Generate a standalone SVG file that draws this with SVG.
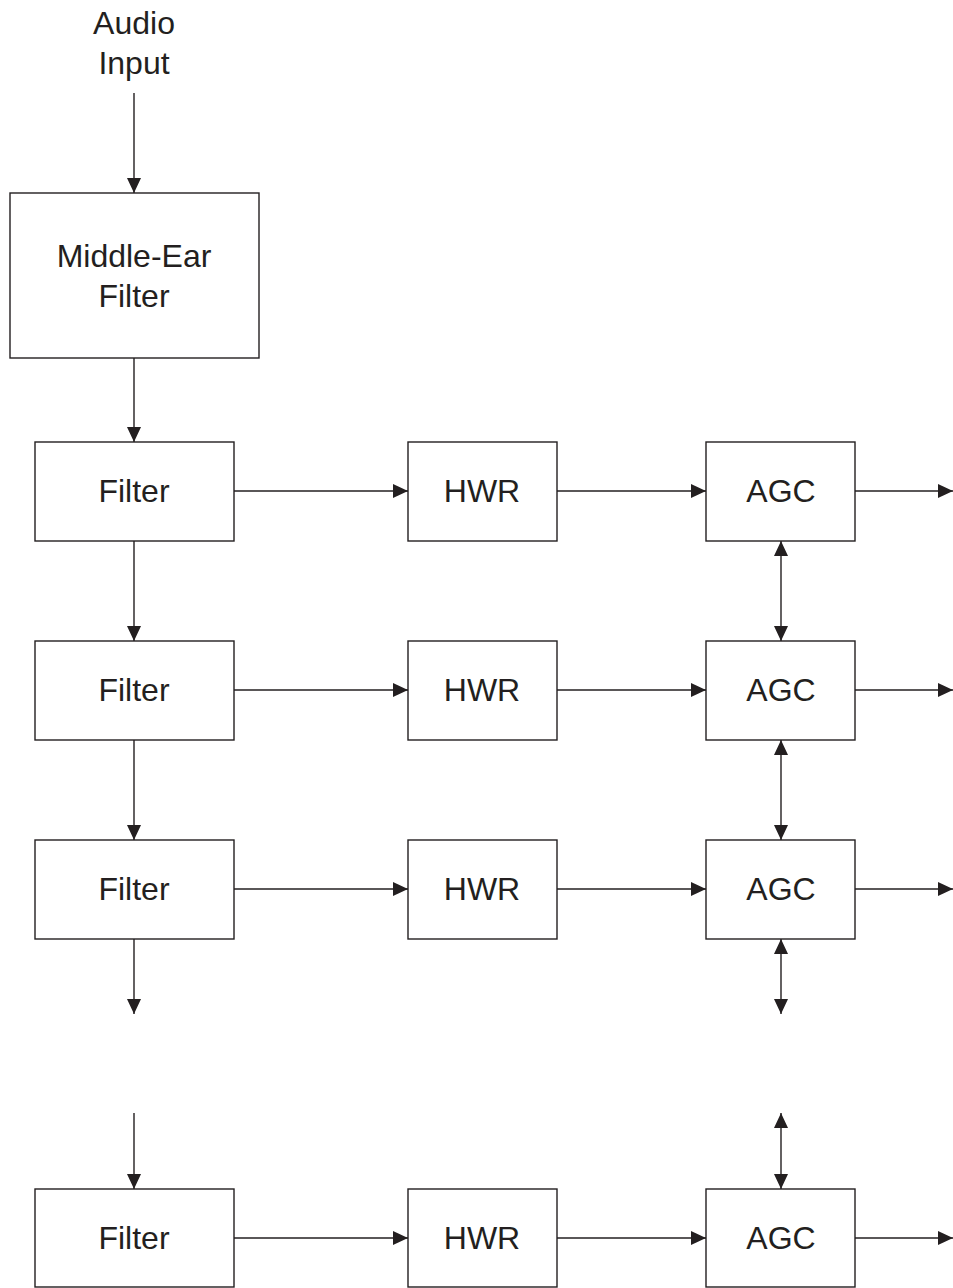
<svg xmlns="http://www.w3.org/2000/svg" width="953" height="1288" viewBox="0 0 953 1288">
  <style>
    .box { fill: #ffffff; stroke: #231f20; stroke-width: 1.4; }
    .lbl { font-family: "Liberation Sans", Arial, sans-serif; font-size: 32px; fill: #231f20; text-anchor: middle; }
    .wire { fill: none; stroke: #231f20; stroke-width: 1.4; }
  </style>
  <defs>
    <marker id="arrow" markerUnits="userSpaceOnUse" markerWidth="16" markerHeight="16" viewBox="0 0 16 16" refX="15" refY="8" orient="auto-start-reverse">
      <path d="M0,1 L15,8 L0,15 Z" fill="#231f20"/>
    </marker>
  </defs>
  <rect width="953" height="1288" fill="#ffffff"/>

  <text class="lbl" x="134" y="34">Audio</text>
  <text class="lbl" x="134" y="74">Input</text>

  <g id="middle-ear">
    <rect class="box" x="10" y="193" width="249" height="165"/>
    <text class="lbl" x="134" y="267">Middle-Ear</text>
    <text class="lbl" x="134" y="307">Filter</text>
  </g>

  <g id="filter1"><rect class="box" x="35" y="442" width="199" height="99"/><text class="lbl" x="134" y="502">Filter</text></g>
  <g id="hwr1"><rect class="box" x="408" y="442" width="149" height="99"/><text class="lbl" x="482" y="502">HWR</text></g>
  <g id="agc1"><rect class="box" x="706" y="442" width="149" height="99"/><text class="lbl" x="781" y="502">AGC</text></g>

  <g id="filter2"><rect class="box" x="35" y="641" width="199" height="99"/><text class="lbl" x="134" y="701">Filter</text></g>
  <g id="hwr2"><rect class="box" x="408" y="641" width="149" height="99"/><text class="lbl" x="482" y="701">HWR</text></g>
  <g id="agc2"><rect class="box" x="706" y="641" width="149" height="99"/><text class="lbl" x="781" y="701">AGC</text></g>

  <g id="filter3"><rect class="box" x="35" y="840" width="199" height="99"/><text class="lbl" x="134" y="900">Filter</text></g>
  <g id="hwr3"><rect class="box" x="408" y="840" width="149" height="99"/><text class="lbl" x="482" y="900">HWR</text></g>
  <g id="agc3"><rect class="box" x="706" y="840" width="149" height="99"/><text class="lbl" x="781" y="900">AGC</text></g>

  <g id="filterN"><rect class="box" x="35" y="1189" width="199" height="98"/><text class="lbl" x="134" y="1249">Filter</text></g>
  <g id="hwrN"><rect class="box" x="408" y="1189" width="149" height="98"/><text class="lbl" x="482" y="1249">HWR</text></g>
  <g id="agcN"><rect class="box" x="706" y="1189" width="149" height="98"/><text class="lbl" x="781" y="1249">AGC</text></g>

  <g id="connectors">
    <!-- filter chain -->
    <line class="wire" x1="134" y1="93" x2="134" y2="193" marker-end="url(#arrow)"/>
    <line class="wire" x1="134" y1="358" x2="134" y2="442" marker-end="url(#arrow)"/>
    <line class="wire" x1="134" y1="541" x2="134" y2="641" marker-end="url(#arrow)"/>
    <line class="wire" x1="134" y1="740" x2="134" y2="840" marker-end="url(#arrow)"/>
    <line class="wire" x1="134" y1="939" x2="134" y2="1014" marker-end="url(#arrow)"/>
    <line class="wire" x1="134" y1="1113" x2="134" y2="1189" marker-end="url(#arrow)"/>

    <!-- rows -->
    <line class="wire" x1="234" y1="491" x2="408" y2="491" marker-end="url(#arrow)"/>
    <line class="wire" x1="557" y1="491" x2="706" y2="491" marker-end="url(#arrow)"/>
    <line class="wire" x1="855" y1="491" x2="953" y2="491" marker-end="url(#arrow)"/>

    <line class="wire" x1="234" y1="690" x2="408" y2="690" marker-end="url(#arrow)"/>
    <line class="wire" x1="557" y1="690" x2="706" y2="690" marker-end="url(#arrow)"/>
    <line class="wire" x1="855" y1="690" x2="953" y2="690" marker-end="url(#arrow)"/>

    <line class="wire" x1="234" y1="889" x2="408" y2="889" marker-end="url(#arrow)"/>
    <line class="wire" x1="557" y1="889" x2="706" y2="889" marker-end="url(#arrow)"/>
    <line class="wire" x1="855" y1="889" x2="953" y2="889" marker-end="url(#arrow)"/>

    <line class="wire" x1="234" y1="1238" x2="408" y2="1238" marker-end="url(#arrow)"/>
    <line class="wire" x1="557" y1="1238" x2="706" y2="1238" marker-end="url(#arrow)"/>
    <line class="wire" x1="855" y1="1238" x2="953" y2="1238" marker-end="url(#arrow)"/>

    <!-- AGC coupling -->
    <line class="wire" x1="781" y1="541" x2="781" y2="641" marker-start="url(#arrow)" marker-end="url(#arrow)"/>
    <line class="wire" x1="781" y1="740" x2="781" y2="840" marker-start="url(#arrow)" marker-end="url(#arrow)"/>
    <line class="wire" x1="781" y1="939" x2="781" y2="1014" marker-start="url(#arrow)" marker-end="url(#arrow)"/>
    <line class="wire" x1="781" y1="1113" x2="781" y2="1189" marker-start="url(#arrow)" marker-end="url(#arrow)"/>
  </g>
</svg>
